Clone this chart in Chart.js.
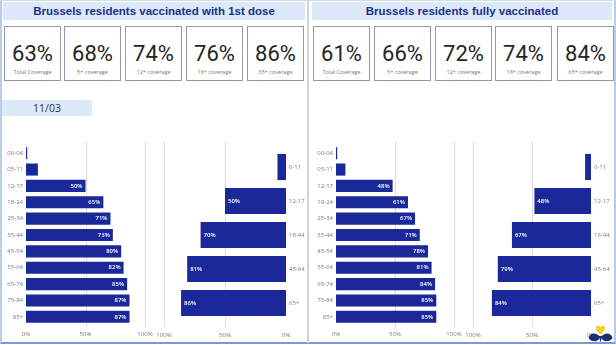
<!DOCTYPE html>
<html>
<head>
<meta charset="utf-8">
<script src="https://cdn.jsdelivr.net/npm/chart.js@4"></script>
<style>
  html,body{margin:0;padding:0;background:#fff;}
  body{width:616px;height:345px;position:relative;overflow:hidden;font-family:"Open Sans",sans-serif;}
  .frame{position:absolute;left:0;top:0;width:612px;height:341px;border-left:2px solid #b7cdea;border-right:2px solid #b7cdea;border-top:1px solid #d5dde8;border-bottom:2px solid #6f9ddf;}
  .sep{position:absolute;left:307px;top:0;width:2px;height:343px;background:#d3d3d3;}
  .banner{position:absolute;top:2px;height:18px;background:#dce9f8;color:#1d2f8c;font-family:"Liberation Sans",Arial,sans-serif;font-weight:bold;font-size:11.5px;line-height:18px;text-align:center;}
  .card{position:absolute;top:26px;width:55px;height:53px;border:1px solid #9597b4;background:#fff;text-align:center;}
  .card .v{position:absolute;left:0;right:0;top:14px;font-family:Roboto,sans-serif;font-size:22px;line-height:26px;color:#252423;}
  .card .l{position:absolute;left:0;right:0;top:41px;font-size:5.5px;line-height:8px;color:#777;}
  .date{position:absolute;left:2px;top:100px;width:90px;height:16px;background:#dce9f8;color:#333;font-size:10.5px;line-height:16px;text-align:center;}
  canvas{position:absolute;}
  .logo{position:absolute;left:588px;top:324px;}
</style>
</head>
<body>
<div class="frame"></div>
<div class="sep"></div>
<div class="banner" style="left:3px;width:302px;" id="t1"></div>
<div class="banner" style="left:312px;width:300px;" id="t2"></div>
<div id="cards"></div>
<div class="date" id="date"></div>
<canvas id="c1" width="160" height="206" style="left:0px;top:136px;"></canvas>
<canvas id="c2" width="160" height="206" style="left:150px;top:136px;"></canvas>
<canvas id="c3" width="160" height="206" style="left:310px;top:136px;"></canvas>
<canvas id="c4" width="156" height="206" style="left:460px;top:136px;"></canvas>
<svg class="logo" width="25" height="19" viewBox="0 0 24 18">
  <path d="M12 10 C7 6 6.5 1.5 9.5 1.5 C11 1.5 12 3 12 3 C12 3 13 1.5 14.5 1.5 C17.5 1.5 17 6 12 10 Z" fill="#f3cf1e"/>
  <path d="M0.5 13 C2.5 7.5 8 8 11.2 12 C11 15 8 17 5 16.3 C3 15.8 1.2 14.8 0.5 13 Z" fill="#1d2f6f"/>
  <path d="M23.5 13 C21.5 7.5 16 8 12.8 12 C13 15 16 17 19 16.3 C21 15.8 22.8 14.8 23.5 13 Z" fill="#1d2f6f"/>
  <path d="M10.3 11.5 L12 17.5 L13.7 11.5 Z" fill="#1d2f6f"/>
</svg>
<script>
// ---- data ----
const title1 = "Brussels residents vaccinated with 1st dose";
const title2 = "Brussels residents fully vaccinated";
const dateLabel = "11/03";
const kpiLabels = ["Total Coverage", "5+ coverage", "12+ coverage", "18+ coverage", "65+ coverage"];
const kpiDose1 = [63, 68, 74, 76, 86];
const kpiFull = [61, 66, 72, 74, 84];

const ageGroups = ["00-04", "05-11", "12-17", "18-24", "25-34", "35-44", "45-54", "55-64", "65-74", "75-84", "85+"];
const dose1ByAge = [1, 10, 50, 65, 71, 73, 80, 82, 85, 87, 87];
const fullByAge = [1, 8, 48, 61, 67, 71, 78, 81, 84, 85, 85];

const broadGroups = ["0-11", "12-17", "18-44", "45-64", "65+"];
const dose1Broad = [7, 50, 70, 81, 86];
const fullBroad = [5, 48, 67, 79, 84];

const xTicks = [0, 50, 100];

// ---- static text ----
document.getElementById('t1').textContent = title1;
document.getElementById('t2').textContent = title2;
document.getElementById('date').textContent = dateLabel;
const cardsEl = document.getElementById('cards');
const leftX = [4, 64, 125, 186, 247];
const rightX = [313, 374, 435, 495, 557];
function addCards(xs, vals) {
  xs.forEach((x, i) => {
    const d = document.createElement('div');
    d.className = 'card';
    d.style.left = x + 'px';
    d.innerHTML = '<div class="v">' + vals[i] + '%</div><div class="l">' + kpiLabels[i] + '</div>';
    cardsEl.appendChild(d);
  });
}
addCards(leftX, kpiDose1);
addCards(rightX, kpiFull);

// ---- charts ----
const BAR = '#1a2899';
const FONT = '"Open Sans", sans-serif';

const gridPlugin = {
  id: 'customGrid',
  beforeDatasetsDraw(chart, args, opts) {
    const ctx = chart.ctx, xs = chart.scales.x;
    ctx.save();
    ctx.strokeStyle = '#dcdcdc';
    ctx.lineWidth = 1;
    [50, 100].forEach(v => {
      const px = Math.round(xs.getPixelForValue(v)) + 0.5;
      ctx.beginPath();
      ctx.moveTo(px, opts.top);
      ctx.lineTo(px, opts.bottom);
      ctx.stroke();
    });
    ctx.restore();
  }
};
const labelPlugin = {
  id: 'barLabels',
  afterDatasetsDraw(chart, args, opts) {
    const ctx = chart.ctx;
    const meta = chart.getDatasetMeta(0);
    const data = chart.data.datasets[0].data;
    ctx.save();
    ctx.fillStyle = '#ffffff';
    ctx.font = '600 6px ' + FONT;
    ctx.textBaseline = 'middle';
    meta.data.forEach((el, i) => {
      if (data[i] < 15) return;
      if (opts.reverse) {
        ctx.textAlign = 'left';
        ctx.fillText(data[i] + '%', el.x + 3, el.y);
      } else {
        ctx.textAlign = 'right';
        ctx.fillText(data[i] + '%', el.x - 3, el.y);
      }
    });
    ctx.restore();
  }
};

function makeChart(id, labels, values, cfg) {
  return new Chart(document.getElementById(id), {
    type: 'bar',
    data: {
      labels: labels,
      datasets: [{ data: values, backgroundColor: BAR, borderWidth: 0, barPercentage: cfg.barPct, categoryPercentage: 1 }]
    },
    plugins: [gridPlugin, labelPlugin],
    options: {
      indexAxis: 'y',
      responsive: false,
      animation: false,
      layout: { padding: cfg.padding },
      plugins: {
        legend: { display: false },
        tooltip: { enabled: false },
        customGrid: { top: 5, bottom: 191 },
        barLabels: { reverse: cfg.reverse }
      },
      scales: {
        x: {
          type: 'linear', min: 0, max: 100, reverse: cfg.reverse,
          afterBuildTicks(s) { s.ticks = xTicks.map(v => ({ value: v })); },
          grid: { display: false, drawTicks: false },
          border: { display: false },
          ticks: { padding: cfg.xPad, color: '#7a7a7a', font: { size: 6, family: FONT }, maxRotation: 0, autoSkip: false, callback: v => v + '%' },
          afterFit(s) { s.height = cfg.xH; }
        },
        y: {
          position: cfg.reverse ? 'right' : 'left',
          grid: { display: false, drawTicks: false },
          border: { display: false },
          ticks: { padding: 3, color: '#7a7a7a', font: { size: 6, family: FONT }, autoSkip: false },
          afterFit(s) { s.width = cfg.yW; }
        }
      }
    }
  });
}

// chart area page coords: c1 x 26..145, y 145..325
makeChart('c1', ageGroups, dose1ByAge, { reverse: false, barPct: 0.74, padding: { left: 0, right: 15, top: 9, bottom: 0 }, xH: 17, xPad: 6, yW: 26 });
// c2 x 164..286, y 150..319.5
makeChart('c2', broadGroups, dose1Broad, { reverse: true, barPct: 0.77, padding: { left: 14, right: 0, top: 14, bottom: 0 }, xH: 22, xPad: 12, yW: 24 });
// c3 x 336..454
makeChart('c3', ageGroups, fullByAge, { reverse: false, barPct: 0.74, padding: { left: 0, right: 16, top: 9, bottom: 0 }, xH: 17, xPad: 6, yW: 26 });
// c4 x 473..591
makeChart('c4', broadGroups, fullBroad, { reverse: true, barPct: 0.77, padding: { left: 13, right: 0, top: 14, bottom: 0 }, xH: 22, xPad: 12, yW: 25 });
</script>
</body>
</html>
